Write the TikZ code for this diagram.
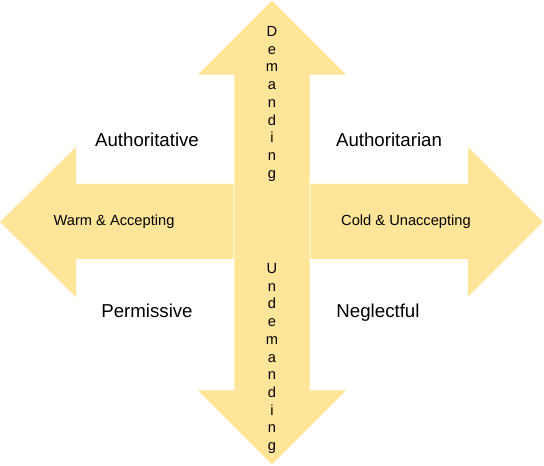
\documentclass[tikz,border=0pt]{standalone}
\usepackage{fontspec}
\setmainfont{Liberation Sans}
\usetikzlibrary{positioning,calc}

\definecolor{armfill}{HTML}{FFE599}

\begin{document}
\begin{tikzpicture}[x=0.75pt,y=-0.75pt,
  arm/.style={fill=armfill,draw=white,line width=0.4pt},
  style/.style={font=\fontsize{14}{17}\selectfont,inner sep=0pt,anchor=base},
  axis/.style={font=\fontsize{11}{13}\selectfont,inner sep=0pt},
  letters/.style={font=\fontsize{11}{13.3}\selectfont,align=center,inner sep=0pt,anchor=north}]
\useasboundingbox (0,0) rectangle (544,466);

% horizontal arrows
\fill[armfill] (234,184) -- (76,184) -- (76,147) -- (0,222) -- (76,297) -- (76,259) -- (234,259) -- cycle;
\fill[armfill] (310,184) -- (468,184) -- (468,147) -- (543,222) -- (468,297) -- (468,259) -- (310,259) -- cycle;

% vertical arrow
\draw[arm] (272,0) -- (347,75) -- (310,75) -- (310,390) -- (347,390) -- (272,465)
  -- (197,390) -- (234,390) -- (234,75) -- (197,75) -- cycle;

\node[style,name=ative] at (147,147) {Authoritative};
\node[style,name=arian] at (389,147) {Authoritarian};
\node[style,name=perm] at (147,318) {Permissive};
\node[style,name=negl] at (378,318) {Neglectful};

\node[axis,name=warm] at (114,222) {Warm \& Accepting};
\node[axis,name=cold] at (406,222) {Cold \& Unaccepting};

\node[letters,name=dem] at (272,26) {D\\e\\m\\a\\n\\d\\i\\n\\g};
\node[letters,name=undem] at (272,263) {U\\n\\d\\e\\m\\a\\n\\d\\i\\n\\g};
\end{tikzpicture}
\end{document}
